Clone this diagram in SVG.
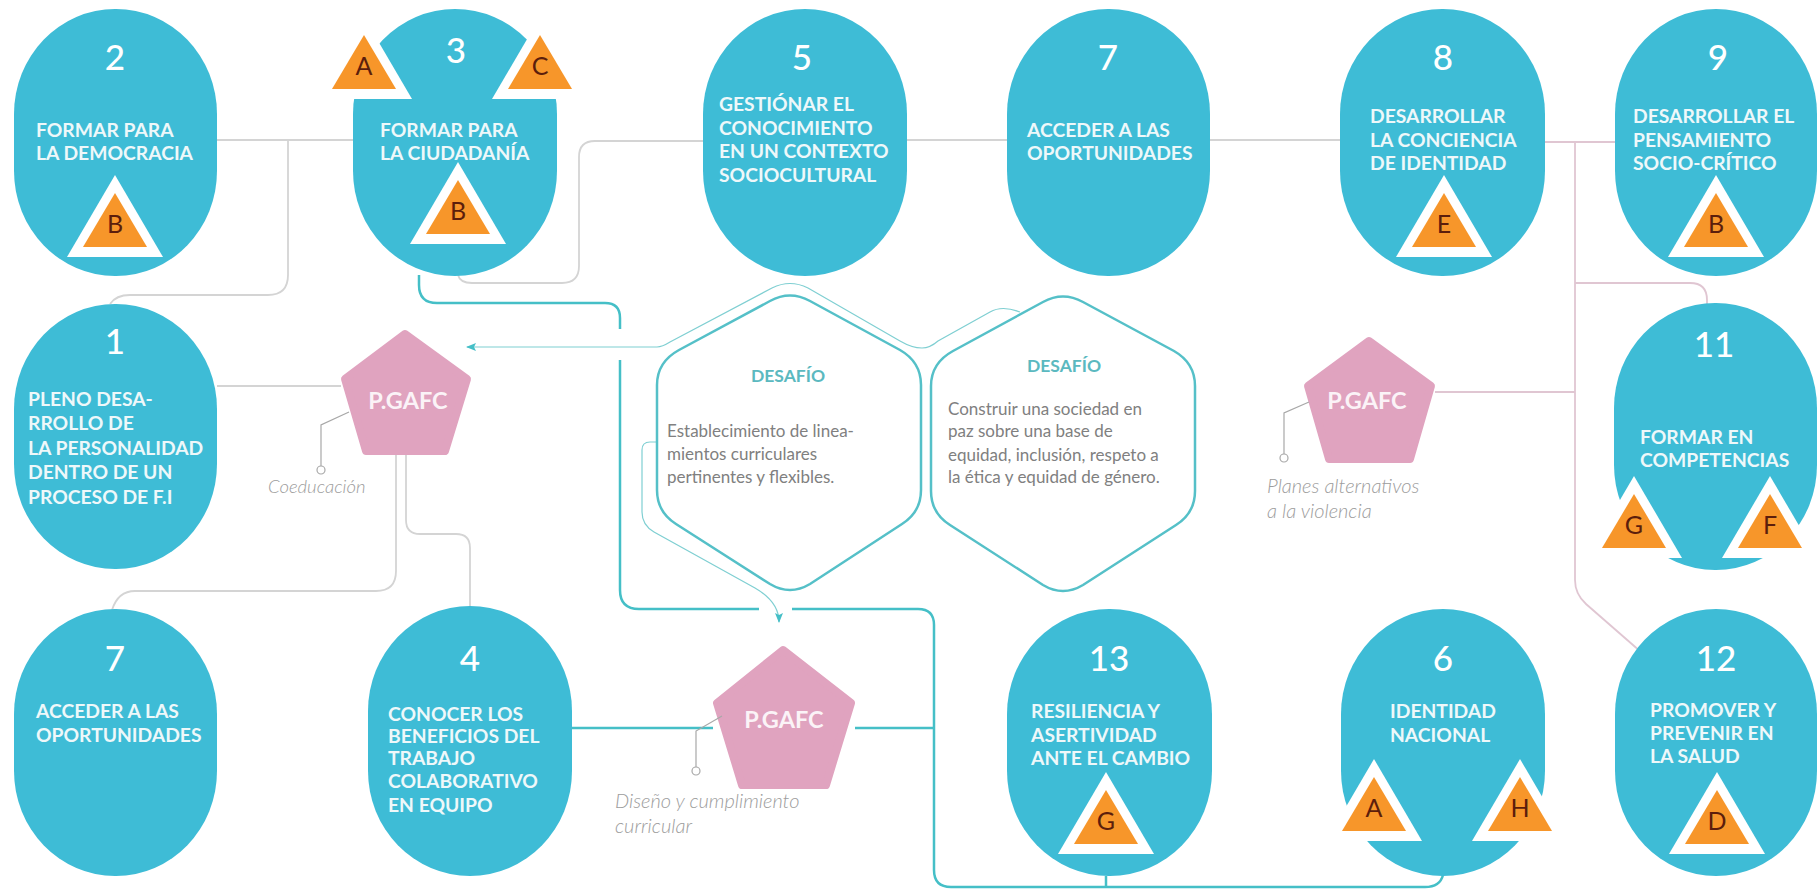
<svg xmlns="http://www.w3.org/2000/svg" xmlns:xlink="http://www.w3.org/1999/xlink" width="1819" height="889" viewBox="0 0 1819 889">
<style>
text{font-family:Lato,"Liberation Sans",sans-serif}
.ov{fill:#3ebcd6}
.num{fill:#fff;font-size:35px;text-anchor:middle;font-weight:500}
.lb{fill:#eef8fa;font-size:19.3px;font-weight:700}
.let{fill:#5c1e0c;font-size:25px;text-anchor:middle}
.pe{fill:#e0a3bf;stroke:#e0a3bf;stroke-width:8;stroke-linejoin:round}
.pt{fill:#fbf3f7;font-size:23.5px;font-weight:700;text-anchor:middle}
.hx{fill:#fff;stroke:#55c0c8;stroke-width:2.5}
.dt{fill:#5bb9c0;font-size:17.5px;font-weight:700;text-anchor:middle}
.bd{fill:#808080;font-size:17px}
.cp{fill:#9c9c9c;font-size:20px;font-style:italic;font-weight:300}
.g{fill:none;stroke:#d4d4d4;stroke-width:1.8}
.p{fill:none;stroke:#e0c6d2;stroke-width:1.8}
.t{fill:none;stroke:#45bfc7;stroke-width:2.5}
.th{fill:none;stroke:#7fcfd2;stroke-width:1.2}
.lead{fill:none;stroke:#a8a8a8;stroke-width:1.2}
.dot{fill:#fff;stroke:#a8a8a8;stroke-width:1.2}
</style>
<defs>
<g id="tri"><polygon points="0,-18 48,64 -48,64" fill="#fff"/><polygon points="0,0 32,54 -32,54" fill="#f7962a"/></g>
<marker id="ah" markerWidth="10" markerHeight="8" refX="9" refY="4" orient="auto" markerUnits="userSpaceOnUse"><path d="M0,0L10,4L0,8L2,4Z" fill="#45bfc7"/></marker>
</defs>
<rect width="1819" height="889" fill="#fff"/>
<g id="connectors">
<path class="g" d="M217,140H353"/>
<path class="g" d="M288,140V275Q288,295 268,295H130Q116,295 110,304"/>
<path class="g" d="M458,275Q460,283 472,283H562Q579,283 579,266V157Q579,141 595,141H703"/>
<path class="g" d="M906,140H1007"/>
<path class="g" d="M1210,140H1340"/>
<path class="p" d="M1545,142H1615"/>
<path class="p" d="M1575,142V580Q1575,594 1586,604L1641,652"/>
<path class="p" d="M1575,283H1690Q1707,283 1707,300V304"/>
<path class="p" d="M1435,392H1575"/>
<path class="g" d="M217,386H341"/>
<path class="g" d="M396,455V571Q396,591 376,591H135Q118,591 112,610"/>
<path class="g" d="M406,455V520Q406,534 420,534H456Q470,534 470,548V606"/>
<path class="t" d="M419,275V285Q419,303 437,303H605Q620,303 620,318V329"/>
<path class="t" d="M620,360V590Q620,609 639,609H759"/>
<path class="t" d="M792,609H918Q934,609 934,625V870Q934,887 951,887H1425Q1440,887 1443,875"/>
<path class="t" d="M1106,876V887"/>
<path class="t" d="M572,728H713"/>
<path class="t" d="M855,728H934"/>
<path class="th" marker-end="url(#ah)" d="M657,347H467"/>
<path class="th" d="M657,347Q662,347 670,342L772,288Q790,279 808,288L900,341Q912,348 922,348Q930,348 938,341L990,312Q1002,305 1020,312"/>
<path class="th" marker-end="url(#ah)" d="M657,442H650Q642,442 642,450V512Q642,525 654,532L755,588Q779,602 779,622"/>
</g>
<g id="hex-1"><path class="hx" d="M770,301Q790,290 810,301L900,350Q921,362 921,385V490Q921,512 902,524L810,584Q790,596 770,584L676,524Q657,512 657,490V385Q657,362 679,350Z"/>
<text class="dt" x="788" y="382">DESAFÍO</text>
<text class="bd"><tspan x="667" y="437">Establecimiento de linea-</tspan><tspan x="667" y="460">mientos curriculares</tspan><tspan x="667" y="483">pertinentes y flexibles.</tspan></text></g>
<g id="hex-2"><path class="hx" d="M1043,302Q1063,291 1083,302L1174,351Q1195,363 1195,386V491Q1195,513 1176,525L1083,585Q1063,597 1043,585L950,525Q931,513 931,491V386Q931,363 953,351Z"/>
<text class="dt" x="1064" y="372">DESAFÍO</text>
<text class="bd"><tspan x="948" y="415">Construir una sociedad en</tspan><tspan x="948" y="437">paz sobre una base de</tspan><tspan x="948" y="461">equidad, inclusión, respeto a</tspan><tspan x="948" y="483">la ética y equidad de género.</tspan></text></g>
<g id="node-2"><rect class="ov" x="14" y="9" width="203" height="267" rx="101" ry="105"/><text class="num" x="115" y="70">2</text><text class="lb"><tspan x="36" y="137">FORMAR PARA</tspan><tspan x="36" y="160">LA DEMOCRACIA</tspan></text><use href="#tri" x="115" y="193"/><text class="let" x="115" y="233">B</text></g>
<g id="node-3"><rect class="ov" x="353" y="9" width="204" height="267" rx="102" ry="105"/><text class="num" x="456" y="63">3</text><text class="lb"><tspan x="380" y="137">FORMAR PARA</tspan><tspan x="380" y="160">LA CIUDADANÍA</tspan></text><use href="#tri" x="458" y="180"/><text class="let" x="458" y="220">B</text><use href="#tri" x="364" y="35"/><text class="let" x="364" y="75">A</text><use href="#tri" x="540" y="35"/><text class="let" x="540" y="75">C</text></g>
<g id="node-5"><rect class="ov" x="703" y="9" width="204" height="267" rx="102" ry="105"/><text class="num" x="802" y="70">5</text><text class="lb"><tspan x="719" y="111">GESTIÓNAR EL</tspan><tspan x="719" y="135">CONOCIMIENTO</tspan><tspan x="719" y="158">EN UN CONTEXTO</tspan><tspan x="719" y="182">SOCIOCULTURAL</tspan></text></g>
<g id="node-7a"><rect class="ov" x="1007" y="9" width="203" height="267" rx="101" ry="105"/><text class="num" x="1108" y="70">7</text><text class="lb"><tspan x="1027" y="137">ACCEDER A LAS</tspan><tspan x="1027" y="160">OPORTUNIDADES</tspan></text></g>
<g id="node-8"><rect class="ov" x="1340" y="9" width="205" height="267" rx="102" ry="105"/><text class="num" x="1443" y="70">8</text><text class="lb"><tspan x="1370" y="123">DESARROLLAR</tspan><tspan x="1370" y="147">LA CONCIENCIA</tspan><tspan x="1370" y="170">DE IDENTIDAD</tspan></text><use href="#tri" x="1444" y="193"/><text class="let" x="1444" y="233">E</text></g>
<g id="node-9"><rect class="ov" x="1615" y="9" width="202" height="267" rx="101" ry="105"/><text class="num" x="1718" y="70">9</text><text class="lb"><tspan x="1633" y="123">DESARROLLAR EL</tspan><tspan x="1633" y="147">PENSAMIENTO</tspan><tspan x="1633" y="170">SOCIO-CRÍTICO</tspan></text><use href="#tri" x="1716" y="193"/><text class="let" x="1716" y="233">B</text></g>
<g id="node-1"><rect class="ov" x="14" y="304" width="203" height="265" rx="101" ry="105"/><text class="num" x="115" y="354">1</text><text class="lb"><tspan x="28" y="406">PLENO DESA-</tspan><tspan x="28" y="430">RROLLO DE</tspan><tspan x="28" y="455">LA PERSONALIDAD</tspan><tspan x="28" y="479">DENTRO DE UN</tspan><tspan x="28" y="504">PROCESO DE F.I</tspan></text></g>
<g id="node-11"><rect class="ov" x="1614" y="303" width="203" height="267" rx="101" ry="105"/><text class="num" x="1714" y="357">11</text><text class="lb"><tspan x="1640" y="444">FORMAR EN</tspan><tspan x="1640" y="467">COMPETENCIAS</tspan></text><use href="#tri" x="1634" y="494"/><text class="let" x="1634" y="534">G</text><use href="#tri" x="1770" y="494"/><text class="let" x="1770" y="534">F</text></g>
<g id="node-7b"><rect class="ov" x="14" y="609" width="203" height="267" rx="101" ry="105"/><text class="num" x="115" y="671">7</text><text class="lb"><tspan x="36" y="718">ACCEDER A LAS</tspan><tspan x="36" y="742">OPORTUNIDADES</tspan></text></g>
<g id="node-4"><rect class="ov" x="368" y="606" width="204" height="270" rx="102" ry="105"/><text class="num" x="470" y="671">4</text><text class="lb"><tspan x="388" y="721">CONOCER LOS</tspan><tspan x="388" y="743">BENEFICIOS DEL</tspan><tspan x="388" y="765">TRABAJO</tspan><tspan x="388" y="788">COLABORATIVO</tspan><tspan x="388" y="812">EN EQUIPO</tspan></text></g>
<g id="node-13"><rect class="ov" x="1007" y="609" width="205" height="267" rx="102" ry="105"/><text class="num" x="1109" y="671">13</text><text class="lb"><tspan x="1031" y="718">RESILIENCIA Y</tspan><tspan x="1031" y="742">ASERTIVIDAD</tspan><tspan x="1031" y="765">ANTE EL CAMBIO</tspan></text><use href="#tri" x="1106" y="790"/><text class="let" x="1106" y="830">G</text></g>
<g id="node-6"><rect class="ov" x="1341" y="609" width="204" height="267" rx="102" ry="105"/><text class="num" x="1443" y="671">6</text><text class="lb"><tspan x="1390" y="718">IDENTIDAD</tspan><tspan x="1390" y="742">NACIONAL</tspan></text><use href="#tri" x="1374" y="777"/><text class="let" x="1374" y="817">A</text><use href="#tri" x="1520" y="777"/><text class="let" x="1520" y="817">H</text></g>
<g id="node-12"><rect class="ov" x="1615" y="609" width="202" height="267" rx="101" ry="105"/><text class="num" x="1716" y="671">12</text><text class="lb"><tspan x="1650" y="717">PROMOVER Y</tspan><tspan x="1650" y="740">PREVENIR EN</tspan><tspan x="1650" y="763">LA SALUD</tspan></text><use href="#tri" x="1717" y="790"/><text class="let" x="1717" y="830">D</text></g>
<g id="pgafc-1"><polygon class="pe" points="405,334 467,379 445,451 366,451 345,379"/><text class="pt" x="408" y="409">P.GAFC</text><path class="lead" d="M349,412L321,425V466"/><circle class="dot" cx="321" cy="470" r="4"/><text class="cp" x="268" y="493" style="font-size:18.5px">Coeducación</text></g>
<g id="pgafc-2"><polygon class="pe" points="1369,341 1431,386 1410,459 1329,459 1308,386"/><text class="pt" x="1367" y="409">P.GAFC</text><path class="lead" d="M1309,402L1284,413V454"/><circle class="dot" cx="1284" cy="458" r="4"/><text class="cp"><tspan x="1267" y="493">Planes alternativos</tspan><tspan x="1267" y="518">a la violencia</tspan></text></g>
<g id="pgafc-3"><polygon class="pe" points="783,650 851,703 826,785 742,785 717,703"/><text class="pt" x="784" y="728">P.GAFC</text><path class="lead" d="M722,716L696,731V767"/><circle class="dot" cx="696" cy="771" r="4"/><text class="cp"><tspan x="615" y="808">Diseño y cumplimiento</tspan><tspan x="615" y="833">curricular</tspan></text></g>
</svg>
